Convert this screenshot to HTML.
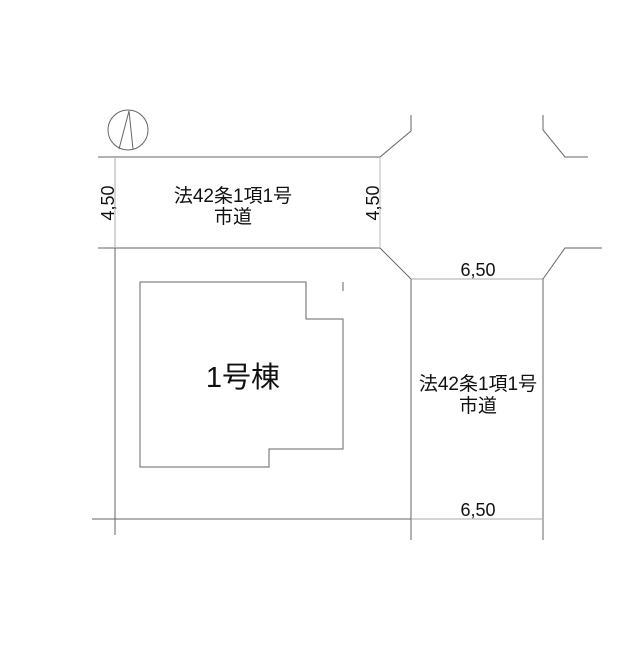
<!DOCTYPE html>
<html><head><meta charset="utf-8"><style>
html,body{margin:0;padding:0;background:#fff;}
svg text{font-family:"Liberation Sans","Noto Sans CJK JP",sans-serif;fill:#111;}
</style></head><body>
<svg width="640" height="640" viewBox="0 0 640 640" xmlns="http://www.w3.org/2000/svg">
<g fill="none" stroke="#666" stroke-width="1">
<circle cx="128" cy="130" r="20"/>
<polyline points="119,149 129,111 133,149"/>
<line x1="98" y1="157" x2="380" y2="157"/>
<line x1="98" y1="248" x2="380" y2="248"/>
<line x1="115" y1="157" x2="115" y2="535" stroke="#aaa"/>
<line x1="115" y1="248" x2="115" y2="535"/>
<line x1="380" y1="157" x2="380" y2="248" stroke="#bbb"/>
<polyline points="380,157 411,131 411,115"/>
<polyline points="543,115 543,130 565,157 588,157"/>
<polyline points="380,248 411,279"/>
<line x1="411" y1="279" x2="543" y2="279" stroke="#aaa"/>
<polyline points="543,279 565,248 602,248"/>
<line x1="411" y1="279" x2="411" y2="540"/>
<line x1="543" y1="279" x2="543" y2="540"/>
<line x1="92" y1="519" x2="411" y2="519"/>
<line x1="411" y1="519" x2="543" y2="519" stroke="#aaa"/>
<polygon points="140,282 306,282 306,319 343,319 343,449 269,449 269,467 140,467"/>
<line x1="343" y1="282" x2="343" y2="291"/>
</g>
<text x="233" y="202" font-size="19" text-anchor="middle">法42条1項1号</text>
<text x="233" y="223" font-size="19" text-anchor="middle">市道</text>
<text x="478" y="390" font-size="19" text-anchor="middle">法42条1項1号</text>
<text x="478" y="412" font-size="19" text-anchor="middle">市道</text>
<text x="243" y="387" font-size="29" text-anchor="middle">1号棟</text>
<text x="478" y="276" font-size="18" text-anchor="middle">6,50</text>
<text x="478" y="516" font-size="18" text-anchor="middle">6,50</text>
<text transform="translate(114,203) rotate(-90)" font-size="18" text-anchor="middle">4,50</text>
<text transform="translate(379,203) rotate(-90)" font-size="18" text-anchor="middle">4,50</text>
</svg>
</body></html>
